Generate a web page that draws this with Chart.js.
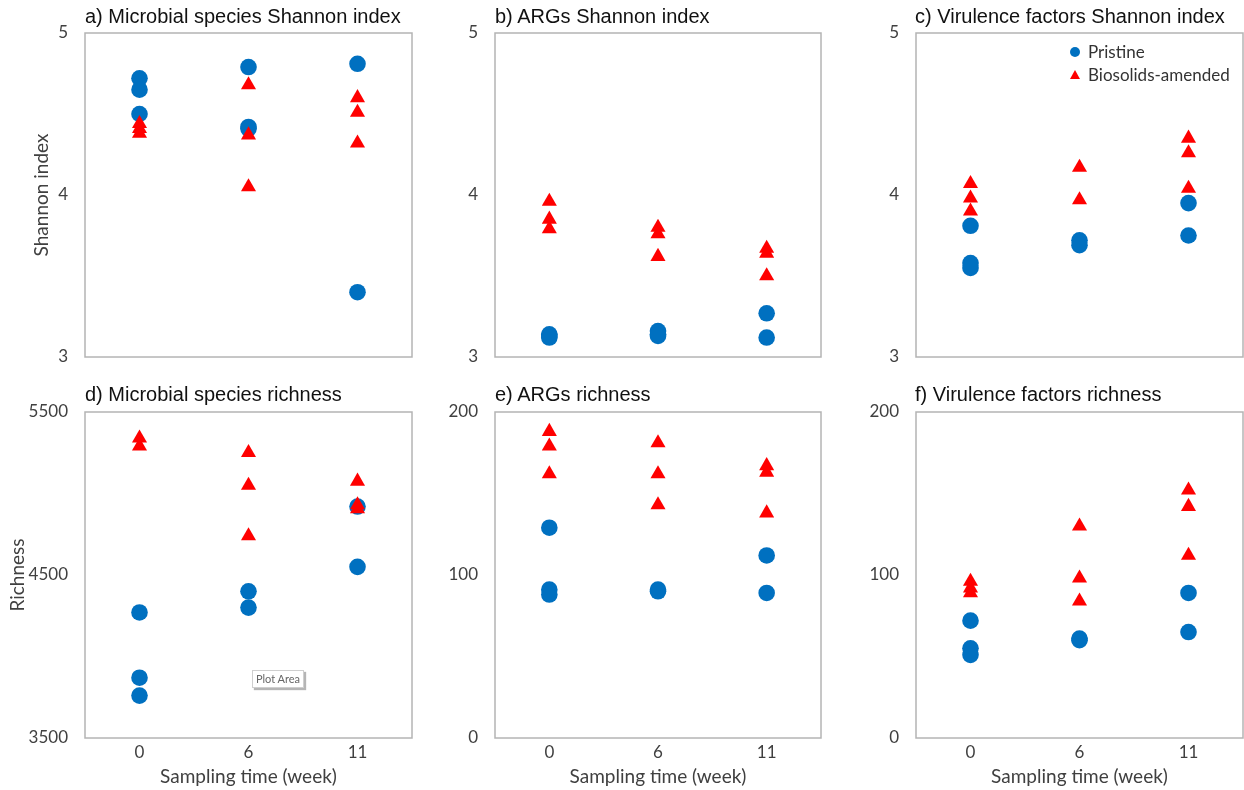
<!DOCTYPE html>
<html>
<head>
<meta charset="utf-8">
<script src="https://cdn.jsdelivr.net/npm/chart.js@4.4.1/dist/chart.umd.min.js"></script>
<style>
    body { margin: 0; background: #fff; }
    #page { position: relative; width: 1244px; height: 790px; overflow: hidden; background: #fff; }
    canvas { position: absolute; }
    .title { position: absolute; font-family: "Liberation Sans", Arial, sans-serif; font-size: 20px; line-height: 24px; color: #111; white-space: nowrap; }
    .legend { position: absolute; font-family: Lato, sans-serif; font-size: 17px; line-height: 20px; color: #333; white-space: nowrap; }
    .dot { position: absolute; width: 10px; height: 10px; border-radius: 50%; background: #0070c0; }
    .tri { position: absolute; width: 0; height: 0; border-left: 5px solid transparent; border-right: 5px solid transparent; border-bottom: 9px solid #ff0000; }
    .plotarea { position: absolute; left: 252px; top: 670px; width: 50px; height: 16px; border: 1px solid #cfcfcf; box-shadow: 2px 2px 1px #b5b5b5; background: #fff; font-family: Lato, sans-serif; font-size: 11px; line-height: 16px; color: #666; text-align: center; }
</style>
</head>
<body>
<div id="page">
    <div class="title" style="left:85px;top:4px">a) Microbial species Shannon index</div>
    <div class="title" style="left:495px;top:4px">b) ARGs Shannon index</div>
    <div class="title" style="left:915px;top:4px">c) Virulence factors Shannon index</div>
    <div class="title" style="left:85px;top:382px">d) Microbial species richness</div>
    <div class="title" style="left:495px;top:382px">e) ARGs richness</div>
    <div class="title" style="left:915px;top:382px">f) Virulence factors richness</div>
</div>
<script>
const weeks = ["0", "6", "11"];

// one inner list per sampling week
const microbeShannonPristine = [[4.72, 4.65, 4.5], [4.79, 4.42, 4.41], [4.81, 3.4]];
const microbeShannonAmended = [[4.44, 4.41, 4.38], [4.68, 4.37, 4.05], [4.6, 4.51, 4.32]];

const argShannonPristine = [[3.14, 3.13, 3.12], [3.16, 3.14, 3.13], [3.27, 3.12]];
const argShannonAmended = [[3.96, 3.85, 3.79], [3.8, 3.76, 3.62], [3.67, 3.64, 3.5]];

const vfShannonPristine = [[3.81, 3.58, 3.55], [3.72, 3.69], [3.95, 3.75]];
const vfShannonAmended = [[4.07, 3.98, 3.9], [4.17, 3.97], [4.35, 4.26, 4.04]];

const microbeRichPristine = [[4270, 3870, 3760], [4400, 4300], [4920, 4550]];
const microbeRichAmended = [[5340, 5290], [5250, 5050, 4740], [5075, 4930, 4905]];

const argRichPristine = [[129, 91, 88], [91, 90], [112, 89]];
const argRichAmended = [[188, 179, 162], [181, 162, 143], [167, 163, 138]];

const vfRichPristine = [[72, 55, 51], [61, 60], [89, 65]];
const vfRichAmended = [[96, 92, 89], [130, 98, 84], [152, 142, 112]];

const BLUE = "#0070c0";
const RED = "#ff0000";
const TEXT = "#404040";

const page = document.getElementById("page");

const collefts = [85, 495, 916];
const colwidths = [327, 326, 327];
const rowtops = [33, 412];
const rowheights = [324, 326];
const axisw = 80;
const pad = 14;

const panels = [
    { pristine: microbeShannonPristine, amended: microbeShannonAmended, min: 3, max: 5, step: 1, ytitle: "Shannon index", ytitlepad: 25.6, col: 0, row: 0 },
    { pristine: argShannonPristine, amended: argShannonAmended, min: 3, max: 5, step: 1, col: 1, row: 0 },
    { pristine: vfShannonPristine, amended: vfShannonAmended, min: 3, max: 5, step: 1, col: 2, row: 0 },
    { pristine: microbeRichPristine, amended: microbeRichAmended, min: 3500, max: 5500, step: 1000, ytitle: "Richness", ytitlepad: 1.6, col: 0, row: 1 },
    { pristine: argRichPristine, amended: argRichAmended, min: 0, max: 200, step: 100, col: 1, row: 1 },
    { pristine: vfRichPristine, amended: vfRichAmended, min: 0, max: 200, step: 100, col: 2, row: 1 },
];

function points(groups) {
    const out = [];
    groups.forEach((vals, i) => vals.forEach((v) => out.push({ x: weeks[i], y: v })));
    return out;
}

function nopadding(s) {
    s.paddingTop = 0;
    s.paddingBottom = 0;
    s.paddingLeft = 0;
    s.paddingRight = 0;
}

// Excel-style grey frame round the plot area
const plotbox = {
    id: "plotbox",
    beforeDatasetsDraw(chart) {
        const { ctx, chartArea: a } = chart;
        ctx.save();
        ctx.strokeStyle = "#b4b4b4";
        ctx.lineWidth = 1.5;
        ctx.strokeRect(a.left, a.top, a.right - a.left, a.bottom - a.top);
        ctx.restore();
    },
};

panels.forEach((p) => {
    const bottomrow = p.row === 1;
    const left = collefts[p.col] - axisw;
    const top = rowtops[p.row] - pad;
    const width = axisw + colwidths[p.col] + 1;
    const height = bottomrow ? 790 - top : pad + rowheights[p.row] + pad;

    const canvas = document.createElement("canvas");
    canvas.width = width;
    canvas.height = height;
    canvas.style.left = left + "px";
    canvas.style.top = top + "px";
    canvas.style.width = width + "px";
    canvas.style.height = height + "px";
    page.insertBefore(canvas, page.firstChild);

    new Chart(canvas.getContext("2d"), {
        type: "line",
        data: {
            labels: weeks,
            datasets: [
                {
                    label: "Pristine",
                    data: points(p.pristine),
                    showLine: false,
                    pointStyle: "circle",
                    pointRadius: 8.3,
                    pointBorderWidth: 0,
                    backgroundColor: BLUE,
                    borderColor: BLUE,
                    order: 1,
                },
                {
                    label: "Biosolids-amended",
                    data: points(p.amended),
                    showLine: false,
                    pointStyle: "triangle",
                    pointRadius: 8.7,
                    pointBorderWidth: 0,
                    backgroundColor: RED,
                    borderColor: RED,
                    order: 0,
                },
            ],
        },
        options: {
            responsive: false,
            maintainAspectRatio: false,
            animation: false,
            events: [],
            layout: { autoPadding: false, padding: { top: pad, bottom: bottomrow ? 0 : pad, left: 0, right: 1 } },
            plugins: { legend: { display: false }, tooltip: { enabled: false } },
            scales: {
                x: {
                    type: "category",
                    offset: true,
                    display: bottomrow,
                    grid: { display: false, drawTicks: false },
                    border: { display: false },
                    ticks: { padding: 4, color: TEXT, font: { family: "Lato", size: 17 } },
                    title: {
                        display: true,
                        text: "Sampling time (week)",
                        color: TEXT,
                        font: { family: "Lato", size: 19 },
                        padding: { top: 0, bottom: 1.6 },
                    },
                    afterFit: (s) => {
                        nopadding(s);
                        if (bottomrow) s.height = 52;
                    },
                },
                y: {
                    min: p.min,
                    max: p.max,
                    grid: { display: false, drawTicks: false },
                    border: { display: false },
                    ticks: {
                        stepSize: p.step,
                        padding: 17,
                        color: TEXT,
                        font: { family: "Lato", size: 17 },
                        callback: (v) => String(v),
                    },
                    title: {
                        display: !!p.ytitle,
                        text: p.ytitle || "",
                        color: TEXT,
                        font: { family: "Lato", size: 19 },
                        padding: { top: p.ytitlepad || 0, bottom: 0 },
                    },
                    afterFit: (s) => {
                        nopadding(s);
                        s.width = axisw;
                    },
                },
            },
        },
        plugins: [plotbox],
    });
});

// legend sits inside panel c, as in the original
const legenditems = [
    { text: "Pristine", cls: "dot", y: 52 },
    { text: "Biosolids-amended", cls: "tri", y: 75 },
];
legenditems.forEach((item) => {
    const mark = document.createElement("div");
    mark.className = item.cls;
    mark.style.left = "1070px";
    mark.style.top = item.y - 5 + "px";
    page.appendChild(mark);

    const label = document.createElement("div");
    label.className = "legend";
    label.textContent = item.text;
    label.style.left = "1088px";
    label.style.top = item.y - 10 + "px";
    page.appendChild(label);
});

const plotarea = document.createElement("div");
plotarea.className = "plotarea";
plotarea.textContent = "Plot Area";
page.appendChild(plotarea);
</script>
</body>
</html>
